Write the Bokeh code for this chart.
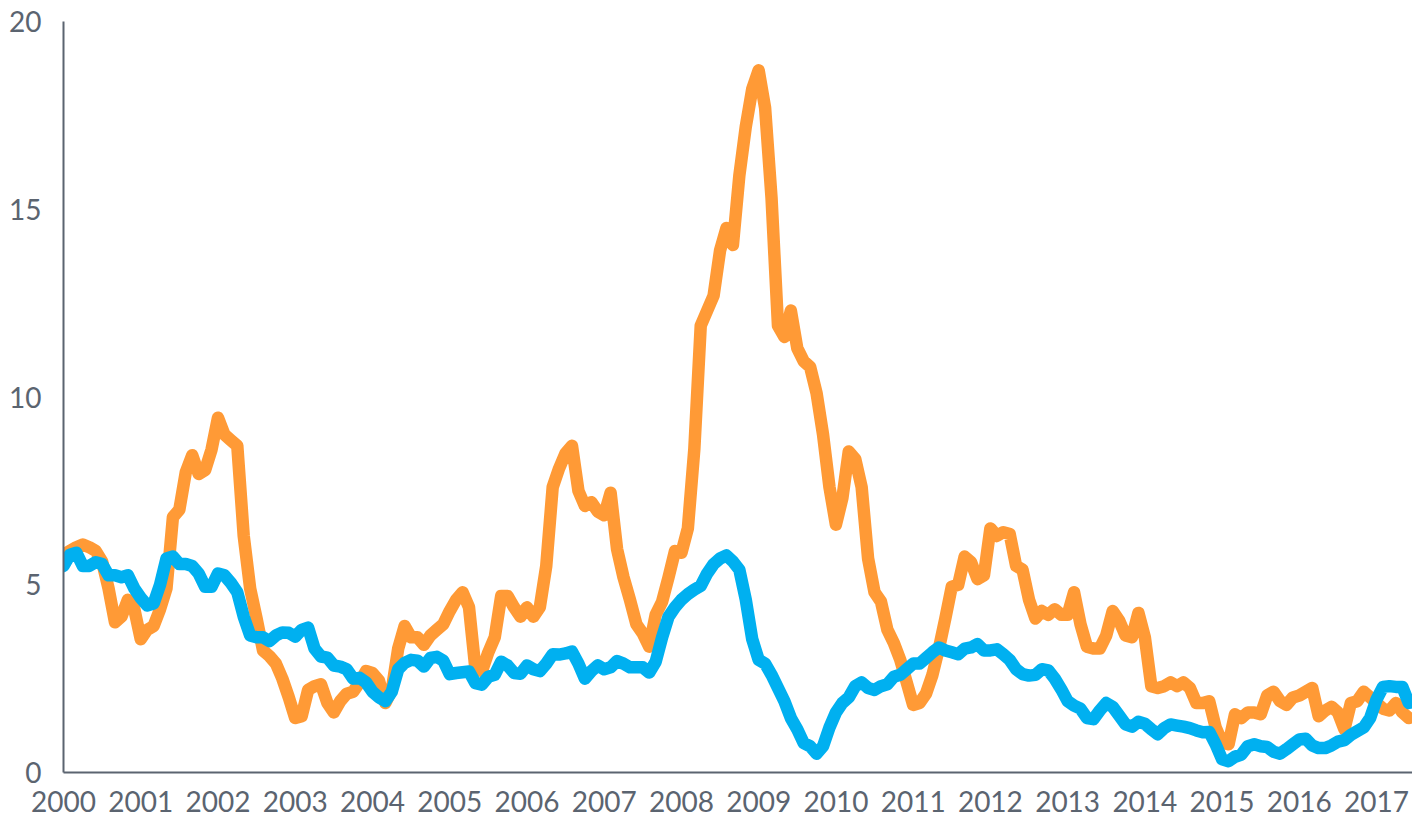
from bokeh.plotting import figure
from bokeh.models import Range1d, FixedTicker, ColumnDataSource
from bokeh.embed import file_html
from bokeh.resources import INLINE

# Monthly series starting January 2000
start_year = 2000
orange_vals = [
    5.8, 5.9, 6.0, 6.07, 6.0, 5.9, 5.62, 4.9, 4.0, 4.15, 4.6, 4.35,          # 2000
    3.55, 3.8, 3.9, 4.35, 4.9, 6.8, 7.0, 8.0, 8.45, 7.95, 8.05, 8.6,         # 2001
    9.45, 9.0, 8.85, 8.7, 6.3, 4.9, 4.1, 3.25, 3.1, 2.9, 2.5, 2.0,          # 2002
    1.45, 1.5, 2.2, 2.3, 2.35, 1.85, 1.6, 1.9, 2.1, 2.15, 2.4, 2.7,         # 2003
    2.65, 2.45, 1.85, 2.2, 3.3, 3.9, 3.6, 3.6, 3.4, 3.65, 3.8, 3.95,        # 2004
    4.3, 4.6, 4.8, 4.4, 2.75, 2.7, 3.2, 3.6, 4.7, 4.7, 4.4, 4.15,           # 2005
    4.4, 4.15, 4.4, 5.5, 7.6, 8.1, 8.5, 8.7, 7.5, 7.1, 7.2, 6.95,           # 2006
    6.85, 7.45, 5.95, 5.2, 4.6, 3.95, 3.7, 3.35, 4.2, 4.55, 5.2, 5.9,       # 2007
    5.85, 6.5, 8.6, 11.9, 12.3, 12.7, 13.9, 14.5, 14.05, 15.9, 17.2, 18.2,  # 2008
    18.7, 17.7, 15.3, 11.9, 11.6, 12.3, 11.3, 10.95, 10.8, 10.1, 9.0, 7.6,  # 2009
    6.6, 7.3, 8.55, 8.35, 7.6, 5.7, 4.8, 4.55, 3.8, 3.45, 3.0, 2.4,         # 2010
    1.8, 1.85, 2.1, 2.6, 3.3, 4.1, 4.95, 5.0, 5.75, 5.6, 5.15, 5.25,        # 2011
    6.5, 6.3, 6.4, 6.35, 5.5, 5.4, 4.6, 4.1, 4.3, 4.2, 4.35, 4.2,           # 2012
    4.2, 4.8, 3.95, 3.35, 3.3, 3.3, 3.65, 4.3, 4.05, 3.65, 3.6, 4.25,       # 2013
    3.6, 2.3, 2.25, 2.3, 2.4, 2.3, 2.4, 2.25, 1.85, 1.85, 1.9, 1.2,         # 2014
    0.8, 0.75, 1.55, 1.45, 1.6, 1.6, 1.55, 2.05, 2.15, 1.9, 1.8, 2.0,       # 2015
    2.05, 2.15, 2.25, 1.5, 1.65, 1.75, 1.6, 1.15, 1.85, 1.9, 2.15, 2.0,     # 2016
    1.85, 1.7, 1.65, 1.85, 1.6, 1.45,                                        # 2017
]
blue_vals = [
    5.5, 5.8, 5.85, 5.5, 5.5, 5.6, 5.55, 5.25, 5.25, 5.2, 5.25, 4.9,        # 2000
    4.65, 4.45, 4.5, 5.0, 5.7, 5.75, 5.55, 5.55, 5.5, 5.3, 4.95, 4.95,      # 2001
    5.3, 5.25, 5.05, 4.8, 4.15, 3.65, 3.6, 3.6, 3.5, 3.65, 3.73, 3.72,      # 2002
    3.62, 3.8, 3.86, 3.3, 3.09, 3.06, 2.85, 2.82, 2.75, 2.5, 2.52, 2.4,     # 2003
    2.15, 2.0, 1.9, 2.15, 2.75, 2.92, 3.0, 2.98, 2.82, 3.05, 3.08, 2.98,    # 2004
    2.62, 2.65, 2.67, 2.69, 2.38, 2.34, 2.55, 2.6, 2.95, 2.85, 2.65, 2.63,  # 2005
    2.85, 2.75, 2.7, 2.9, 3.15, 3.14, 3.17, 3.22, 2.9, 2.5, 2.7, 2.85,      # 2006
    2.75, 2.8, 2.97, 2.9, 2.8, 2.8, 2.8, 2.66, 2.95, 3.6, 4.15, 4.4,        # 2007
    4.6, 4.75, 4.87, 4.97, 5.3, 5.55, 5.7, 5.78, 5.62, 5.4, 4.6, 3.55,      # 2008
    3.0, 2.9, 2.6, 2.25, 1.9, 1.45, 1.15, 0.78, 0.7, 0.5, 0.7, 1.2,         # 2009
    1.6, 1.85, 2.0, 2.3, 2.4, 2.25, 2.2, 2.3, 2.35, 2.55, 2.6, 2.75,        # 2010
    2.9, 2.9, 3.05, 3.2, 3.33, 3.25, 3.2, 3.15, 3.3, 3.33, 3.42, 3.25,      # 2011
    3.25, 3.28, 3.15, 3.0, 2.75, 2.62, 2.58, 2.6, 2.75, 2.72, 2.5, 2.22,    # 2012
    1.9, 1.78, 1.7, 1.45, 1.42, 1.65, 1.85, 1.75, 1.52, 1.28, 1.22, 1.35,   # 2013
    1.3, 1.15, 1.02, 1.18, 1.28, 1.25, 1.22, 1.18, 1.12, 1.07, 1.08, 0.75,  # 2014
    0.35, 0.3, 0.42, 0.48, 0.7, 0.75, 0.7, 0.68, 0.55, 0.5, 0.62, 0.75,     # 2015
    0.88, 0.9, 0.72, 0.65, 0.65, 0.72, 0.82, 0.86, 1.0, 1.1, 1.2, 1.45,     # 2016
    1.95, 2.28, 2.3, 2.28, 2.28, 1.85,                                       # 2017
]
year_ticks = list(range(2000, 2018))
value_ticks = [0, 5, 10, 15, 20]

x_vals = [start_year + i / 12 for i in range(len(orange_vals))]
src = ColumnDataSource(dict(x=x_vals, orange=orange_vals, blue=blue_vals))

AXIS_GREY = "#5B6470"

p = figure(width=1412, height=818, output_backend="svg", toolbar_location=None,
           x_range=Range1d(2000, 2017.465), y_range=Range1d(0, 20),
           min_border_left=63, min_border_right=0, min_border_top=21,
           min_border_bottom=46)
p.outline_line_color = None
p.grid.visible = False
p.background_fill_color = "white"

p.line("x", "orange", source=src, line_color="#FF9A36", line_width=12.5,
       line_join="round", line_cap="round")
p.line("x", "blue", source=src, line_color="#00B0F0", line_width=12.5,
       line_join="round", line_cap="round")

for ax in (p.xaxis[0], p.yaxis[0]):
    ax.axis_line_color = AXIS_GREY
    ax.axis_line_width = 2
    ax.major_tick_line_color = None
    ax.minor_tick_line_color = None
    ax.major_label_text_color = AXIS_GREY
    ax.major_label_text_font = "Lato"
    ax.major_label_text_font_size = "28px"

p.xaxis.ticker = FixedTicker(ticks=year_ticks)
p.xaxis.major_label_overrides = {y: str(y) for y in year_ticks}
p.xaxis.major_label_standoff = 12
p.yaxis.ticker = FixedTicker(ticks=value_ticks)
p.yaxis.major_label_overrides = {v: str(v) for v in value_ticks}
p.yaxis.major_label_standoff = 16

open("out.html", "w").write(file_html(p, INLINE))
